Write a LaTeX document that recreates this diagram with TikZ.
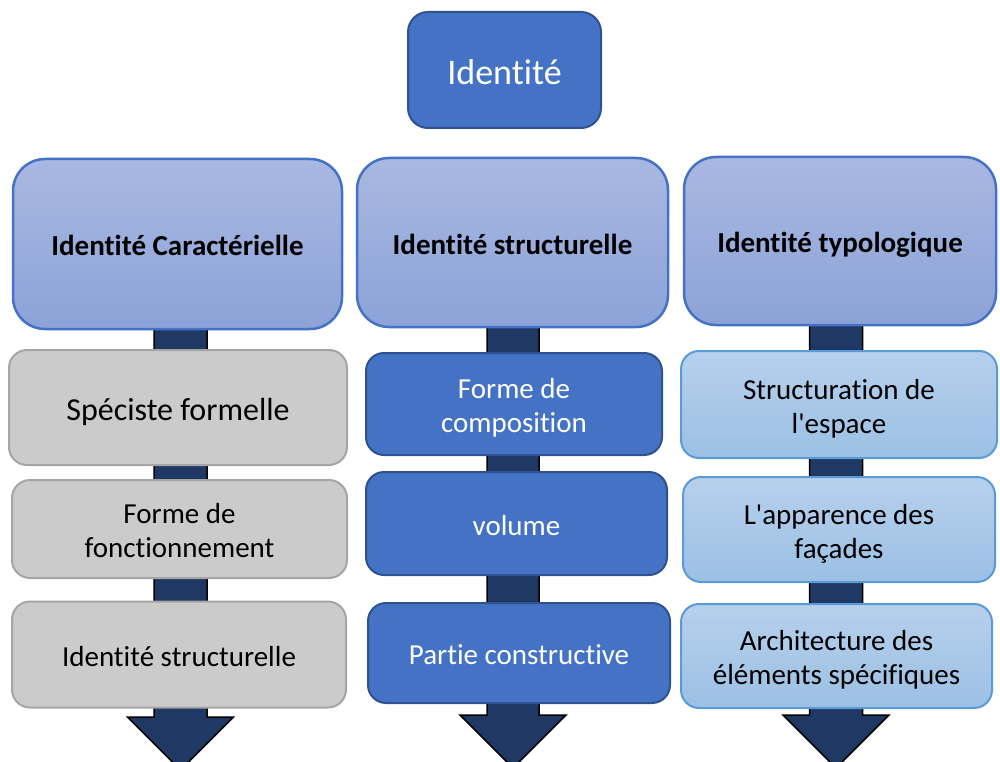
\documentclass[tikz,border=0pt]{standalone}
\usepackage{fontspec}
\setmainfont{Carlito}[Ligatures={NoCommon}]
\usetikzlibrary{calc,backgrounds}

\definecolor{topblue}{HTML}{4472C4}
\definecolor{topedge}{HTML}{2F528F}
\definecolor{hdrtop}{HTML}{A9B8E1}
\definecolor{hdrbot}{HTML}{8CA3D8}
\definecolor{hdredge}{HTML}{4472C4}
\definecolor{shaftfill}{HTML}{1F3864}
\definecolor{greyfill}{HTML}{CBCBCB}
\definecolor{greyedge}{HTML}{A5A5A5}
\definecolor{lbtop}{HTML}{B7D0EC}
\definecolor{lbbot}{HTML}{9BC0E4}
\definecolor{lbedge}{HTML}{5B9BD5}

% uniform line box so every label sits the same way in its box
\newcommand{\linetop}{\rule{0pt}{1.1em}}
\newcommand{\linebot}{\rule[-0.3em]{0pt}{0pt}}
% two-line label with fixed top and bottom of its line box
\newcommand{\stacked}[2]{\rule{0pt}{1.1em}#1\\#2\rule[-0.3em]{0pt}{0pt}}

\tikzset{
  basebox/.style={align=center, inner sep=0pt, line width=2pt,
    font=\fontsize{29}{34}\selectfont,
    execute at begin node=\linetop, execute at end node=\linebot},
  titlebox/.style={basebox, rounded corners=20pt, fill=topblue, draw=topedge,
    text=white, font=\fontsize{36}{40}\selectfont},
  headbox/.style={basebox, rounded corners=32pt, top color=hdrtop, bottom color=hdrbot,
    draw=hdredge, line width=2.5pt, font=\fontsize{29}{32}\selectfont\bfseries},
  greybox/.style={basebox, rounded corners=18pt, fill=greyfill, draw=greyedge},
  bluebox/.style={basebox, rounded corners=18pt, fill=topblue, draw=topedge, text=white},
  lightbox/.style={basebox, rounded corners=18pt, top color=lbtop, bottom color=lbbot,
    draw=lbedge},
  shaftst/.style={fill=shaftfill, draw=black, line width=1.5pt, line join=miter}
}

\begin{document}
\begin{tikzpicture}[x=1pt,y=-1pt]
\useasboundingbox (0,0) rectangle (1000,762);

% title
\node[titlebox, minimum width=193, minimum height=116] (top) at (504.5,70) {Identité};

% column headers
\node[headbox, minimum width=329, minimum height=170] (h1) at (177.5,244) {Identité Caractérielle};
\node[headbox, minimum width=311, minimum height=169] (h2) at (512.5,242.5) {Identité structurelle};
\node[headbox, minimum width=312, minimum height=168] (h3) at (840,241) {Identité typologique};

% left column
\node[greybox, font=\fontsize{32}{35}\selectfont, minimum width=338, minimum height=115] (l1) at (178,407.5) {Spéciste formelle};
\node[greybox, minimum width=335, minimum height=98] (l2) at (179.5,529) {\stacked{Forme de}{fonctionnement}};
\node[greybox, minimum width=334, minimum height=106] (l3) at (179,654.5) {Identité structurelle};

% middle column
\node[bluebox, minimum width=296, minimum height=102] (m1) at (514,404) {\stacked{Forme de}{composition}};
\node[bluebox, minimum width=301, minimum height=103] (m2) at (516.5,523.5) {volume};
\node[bluebox, minimum width=302, minimum height=100] (m3) at (519,653) {Partie constructive};

% right column
\node[lightbox, minimum width=316, minimum height=107] (r1) at (839,404.5) {\stacked{Structuration de}{l\textquotesingle espace}};
\node[lightbox, minimum width=312, minimum height=105] (r2) at (839,529.5) {\stacked{L\textquotesingle apparence des}{façades}};
\node[lightbox, minimum width=311, minimum height=104] (r3) at (836.5,656) {\stacked{Architecture des}{éléments spécifiques}};

% arrow tips below each column
\coordinate (tip1) at (180.5,770);
\coordinate (tip2) at (513,768);
\coordinate (tip3) at (836,768);

% block arrows running behind each column
\begin{scope}[on background layer]
\filldraw[shaftst] ($(tip1 |- h1.south)+(-26.5,-3)$) -- ($(tip1)+(-26.5,-53)$)
  -- ($(tip1)+(-53,-53)$) -- (tip1) -- ($(tip1)+(53,-53)$)
  -- ($(tip1)+(26.5,-53)$) -- ($(tip1 |- h1.south)+(26.5,-3)$) -- cycle;
\filldraw[shaftst] ($(tip2 |- h2.south)+(-26,-3)$) -- ($(tip2)+(-26,-53)$)
  -- ($(tip2)+(-53,-53)$) -- (tip2) -- ($(tip2)+(53,-53)$)
  -- ($(tip2)+(26,-53)$) -- ($(tip2 |- h2.south)+(26,-3)$) -- cycle;
\filldraw[shaftst] ($(tip3 |- h3.south)+(-26.5,-3)$) -- ($(tip3)+(-26.5,-53)$)
  -- ($(tip3)+(-53,-53)$) -- (tip3) -- ($(tip3)+(53,-53)$)
  -- ($(tip3)+(26.5,-53)$) -- ($(tip3 |- h3.south)+(26.5,-3)$) -- cycle;
\end{scope}
\end{tikzpicture}
\end{document}
